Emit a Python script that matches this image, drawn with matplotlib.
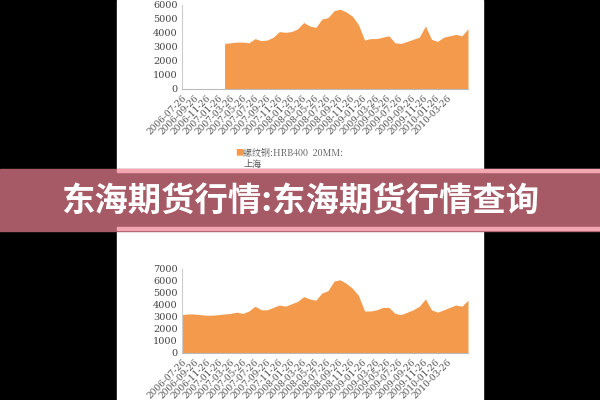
import matplotlib
matplotlib.use("Agg")
import matplotlib.pyplot as plt
import numpy as np
import pandas as pd

plt.rcParams['font.family'] = ['Noto Sans CJK SC', 'DejaVu Sans']

top_vals = [0, 0, 0, 0, 0, 0, 0, 3250, 3300, 3350, 3350, 3300, 3600, 3450, 3500, 3700,
            4100, 4050, 4100, 4300, 4750, 4500, 4400, 5000, 5100, 5600, 5700, 5500,
            5200, 4600, 3500, 3600, 3600, 3700, 3800, 3300, 3250, 3400, 3550, 3700,
            4500, 3550, 3400, 3700, 3800, 3900, 3800, 4300]
bot_vals = [3200, 3250, 3250, 3200, 3150, 3150, 3200, 3250, 3300, 3400, 3300, 3500,
            3900, 3600, 3600, 3800, 4000, 3900, 4100, 4300, 4700, 4500, 4400, 5000,
            5200, 6000, 6100, 5800, 5400, 4800, 3500, 3500, 3600, 3800, 3800, 3300,
            3200, 3400, 3600, 3900, 4500, 3600, 3400, 3600, 3800, 4000, 3900, 4400]
start = pd.Timestamp("2006-07-26")
tick_labels = [(start + pd.DateOffset(months=2 * i)).strftime("%Y-%m-%d") for i in range(23)]
orange = "#f39a4c"

x = np.arange(len(top_vals))
tick_pos = np.linspace(0.0, 43.5, len(tick_labels))

fig = plt.figure(figsize=(6, 4), dpi=100)
fig.patch.set_facecolor("black")
fig.add_artist(plt.Rectangle((117/600, 0), 366/600, 1, transform=fig.transFigure, color="white", zorder=0))

def panel(rect, vals, ymax, mask_zero):
    ax = fig.add_axes(rect)
    v = np.array(vals, float)
    ax.fill_between(x, 0, v, where=(v > 0) if mask_zero else None, color=orange, lw=0)
    ax.set_xlim(x[0], x[-1])
    ax.set_ylim(0, ymax)
    ax.set_yticks(range(0, ymax + 1, 1000))
    ax.set_xticks(tick_pos)
    ax.set_xticklabels(tick_labels, rotation=45, ha="right", rotation_mode="anchor",
                       fontsize=6.5, color="#555555", family="DejaVu Serif")
    for t in ax.get_yticklabels():
        t.set_fontsize(7); t.set_color("#444444"); t.set_family("DejaVu Serif")
    for s in ["top", "right"]:
        ax.spines[s].set_visible(False)
    ax.spines["left"].set_color("#cccccc")
    ax.spines["bottom"].set_color("#bbbbbb")
    ax.tick_params(length=0, pad=3)
    ax.set_facecolor("white")
    return ax

panel([182/600, 1 - 89/400, 286/600, 84/400], top_vals, 6000, True)
panel([182/600, 1 - 353/400, 286/600, 84/400], bot_vals, 7000, False)

fig.text(235/600, 1 - 153/400, "■", color=orange, fontsize=6, va="center")
fig.text(243/600, 1 - 153/400, "螺纹钢:HRB400  20MM:", color="#555555", fontsize=6.5, va="center", family=["Noto Serif CJK SC", "Noto Sans CJK SC", "DejaVu Sans"])
fig.text(243/600, 1 - 164/400, "上海", color="#555555", fontsize=6.5, va="center")

fig.add_artist(plt.Rectangle((0, 1 - 231/400), 1, 62/400, transform=fig.transFigure, color="#a65a66", zorder=5))
fig.add_artist(plt.Rectangle((117/600, 1 - 172/400), 1, 3/400, transform=fig.transFigure, color="#f4a7b0", zorder=6))
fig.add_artist(plt.Rectangle((117/600, 1 - 230/400), 1, 3/400, transform=fig.transFigure, color="#f4a7b0", zorder=6))
fig.text(0.5, 1 - 201/400, "东海期货行情:东海期货行情查询", color="white", fontsize=24,
         fontweight="heavy", ha="center", va="center", zorder=7)

fig.savefig("out.png", dpi=100, facecolor=fig.get_facecolor())
